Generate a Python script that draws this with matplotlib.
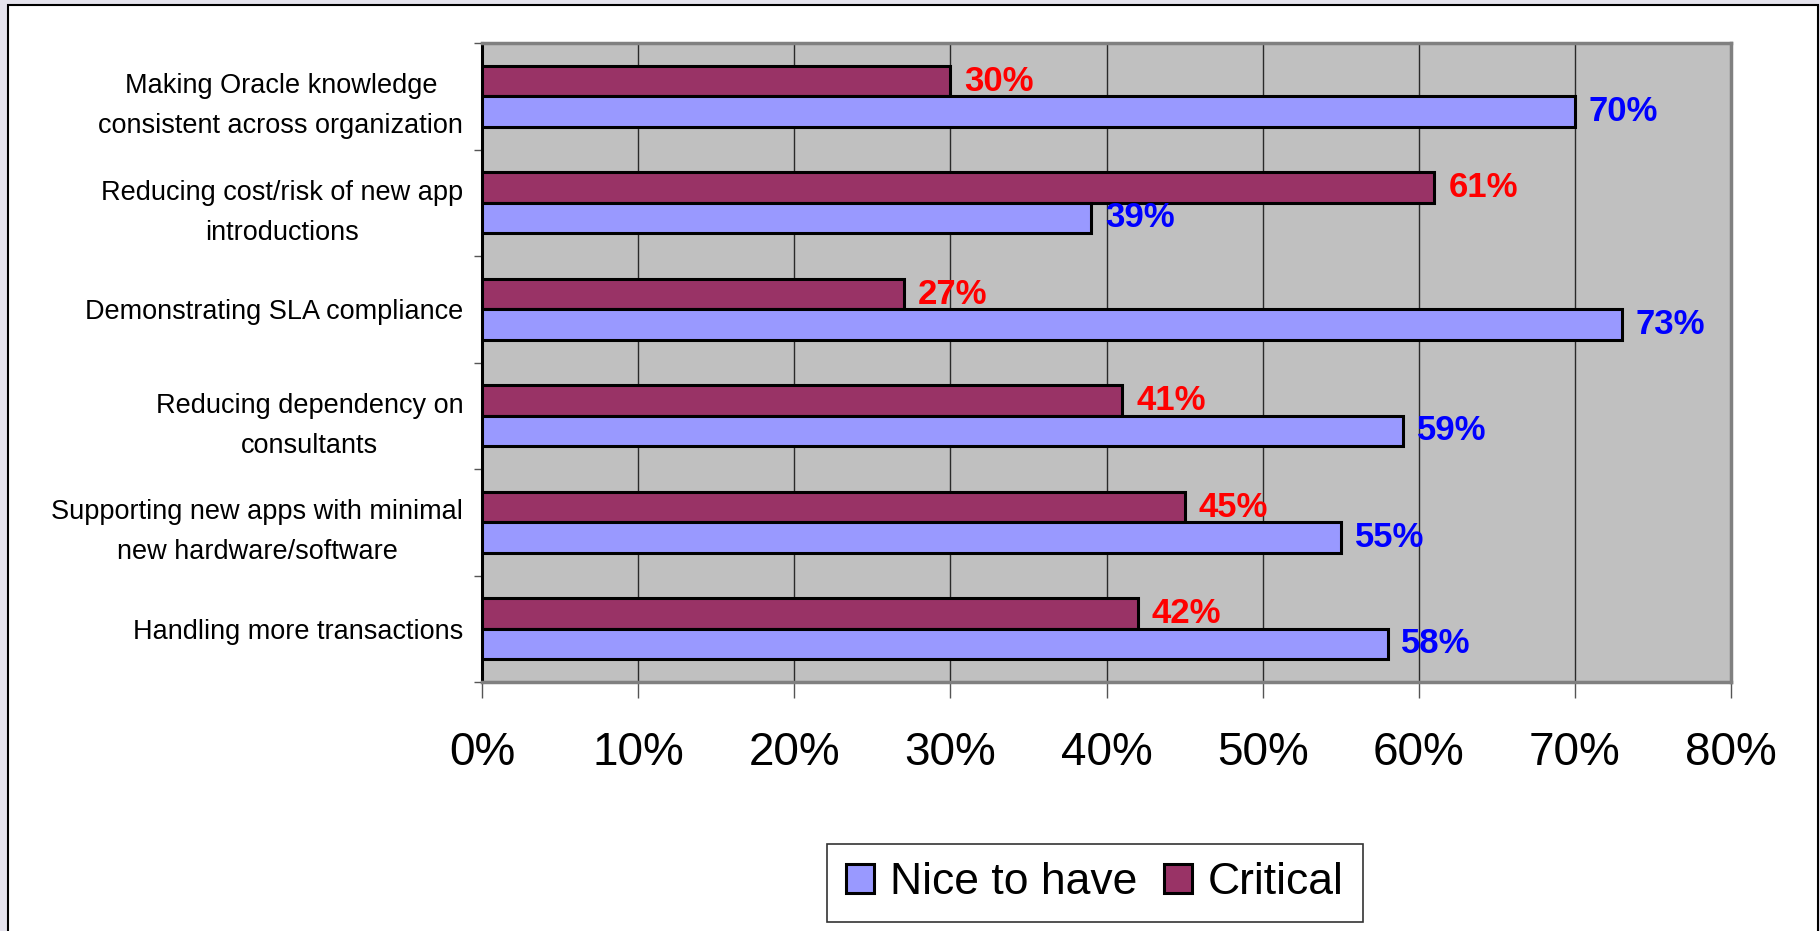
import matplotlib
matplotlib.use("Agg")
import matplotlib.pyplot as plt
from matplotlib.patches import Rectangle
import numpy as np

plt.rcParams['font.family'] = ['Liberation Sans', 'DejaVu Sans']

categories = [
    "Making Oracle knowledge\nconsistent across organization",
    "Reducing cost/risk of new app\nintroductions",
    "Demonstrating SLA compliance",
    "Reducing dependency on\nconsultants",
    "Supporting new apps with minimal\nnew hardware/software",
    "Handling more transactions",
]
critical = [30, 61, 27, 41, 45, 42]
nice_to_have = [70, 39, 73, 59, 55, 58]
xticks = [0, 10, 20, 30, 40, 50, 60, 70, 80]
xtick_labels = [f"{v}%" for v in xticks]

W, H = 1820, 931
fig = plt.figure(figsize=(W / 100, H / 100), dpi=100)
fig.patch.set_facecolor('#E5E3ED')
# white panel with black border
panel = Rectangle((8 / W, -0.02), (1818 - 8) / W, 1 - 5 / H + 0.02,
                  transform=fig.transFigure, facecolor='white',
                  edgecolor='black', linewidth=1.5, zorder=-10)
fig.add_artist(panel)

left, right, top, bottom = 482, 1731, 43, 682
ax = fig.add_axes([left / W, 1 - bottom / H, (right - left) / W, (bottom - top) / H])
ax.set_zorder(1)
ax.set_facecolor('#C0C0C0')

y = np.arange(len(categories))
h = 0.285
ax.barh(y - h / 2, critical, height=h, color='#993366', edgecolor='black',
        linewidth=2.2, label='Critical', zorder=3)
ax.barh(y + h / 2, nice_to_have, height=h, color='#9999FF', edgecolor='black',
        linewidth=2.2, label='Nice to have', zorder=3)

for yi, v in zip(y, critical):
    ax.annotate(f"{v}%", xy=(v, yi - h / 2), xytext=(10, 0), textcoords='offset points',
                ha='left', va='center', color='#FF0000', fontsize=25, fontweight='bold', zorder=4)
for yi, v in zip(y, nice_to_have):
    ax.annotate(f"{v}%", xy=(v, yi + h / 2), xytext=(10, 0), textcoords='offset points',
                ha='left', va='center', color='#0000FF', fontsize=25, fontweight='bold', zorder=4)

ax.set_xlim(0, 80)
ax.set_ylim(len(categories) - 0.5, -0.5)

ax.set_xticks(xticks)
ax.set_xticklabels(xtick_labels, fontsize=33)
ax.tick_params(axis='x', direction='out', length=11.5, width=1, color='#555555', pad=24)
ax.xaxis.grid(True, color='#2A2A2A', linewidth=1, zorder=1)
ax.set_axisbelow(True)

ax.set_yticks(np.arange(-0.5, len(categories), 1.0))
ax.set_yticklabels([])
ax.tick_params(axis='y', which='major', direction='out', length=5.8, width=1, color='#555555')
ax.set_yticks(y, minor=True)
ax.set_yticklabels(categories, minor=True, fontsize=19.5, linespacing=1.7)
ax.tick_params(axis='y', which='minor', length=0, pad=13.5)
for lbl in ax.get_yticklabels(minor=True):
    lbl.set_multialignment('center')

for s in ['top', 'right', 'bottom']:
    ax.spines[s].set_color('#808080')
    ax.spines[s].set_linewidth(2.5)
ax.spines['left'].set_color('black')
ax.spines['left'].set_linewidth(2.2)

handles, labels = ax.get_legend_handles_labels()
leg = fig.legend(handles[::-1], labels[::-1], loc='center',
                 bbox_to_anchor=(1095 / W, 1 - 883 / H), ncol=2, fontsize=32,
                 frameon=True, fancybox=False, shadow=False, edgecolor='black',
                 handlelength=0.63, handleheight=0.63, handletextpad=0.36,
                 columnspacing=0.6, borderpad=0.42, borderaxespad=0)
leg.get_frame().set_linewidth(1.2)

fig.savefig('out.png', dpi=100, facecolor=fig.get_facecolor())
